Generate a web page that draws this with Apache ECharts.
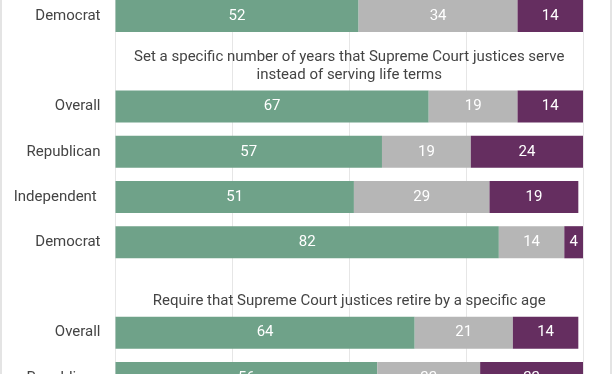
<!DOCTYPE html>
<html>
<head>
<meta charset="utf-8">
<script src="https://cdn.jsdelivr.net/npm/echarts@6/dist/echarts.min.js"></script>
<style>
html,body{margin:0;padding:0;background:#fff;}
#wrap{position:relative;width:612px;height:374px;overflow:hidden;}
#chart{position:absolute;left:0;top:-8px;width:612px;height:420px;}
.bl{position:absolute;top:0;left:0;width:2px;height:374px;background:#e4e4e4;}
.br{position:absolute;top:0;right:0;width:2px;height:374px;background:#e4e4e4;}
</style>
</head>
<body>
<div id="wrap"><div id="chart"></div><div class="bl"></div><div class="br"></div></div>
<script>
// rows top to bottom ('' = section title row)
const rowLabels = ['Democrat', '', 'Overall', 'Republican', 'Independent ', 'Democrat', '', 'Overall', 'Republican'];
const titles = ['', 'Set a specific number of years that Supreme Court justices serve\ninstead of serving life terms', '', '', '', '', 'Require that Supreme Court justices retire by a specific age', '', ''];
const favor   = [52, null, 67, 57, 51, 82, null, 64, 56];
const neither = [34, null, 19, 19, 29, 14, null, 21, 22];
const oppose  = [14, null, 14, 24, 19, 4, null, 14, 22];
const xTicks = [0, 25, 50, 75, 100];

const fontFamily = 'Roboto, "Noto Sans", sans-serif';
const chart = echarts.init(document.getElementById('chart'), null, {renderer: 'canvas'});

function seg(name, data, color) {
  return {
    name: name, type: 'bar', stack: 'total', yAxisIndex: 0,
    barWidth: '71%',
    data: data.map(v => v == null ? '-' : v),
    itemStyle: {color: color},
    label: {show: true, position: 'inside', color: '#fff', fontSize: 15, fontFamily: fontFamily,
            formatter: p => p.value},
    silent: true
  };
}

chart.setOption({
  animation: false,
  grid: {left: 115.5, right: 29, top: 1.4, bottom: 11.4, containLabel: false},
  xAxis: {
    type: 'value', min: xTicks[0], max: xTicks[xTicks.length - 1], interval: 25,
    axisLabel: {show: false}, axisTick: {show: false}, axisLine: {show: false},
    splitLine: {show: true, lineStyle: {color: '#e6e6e6', width: 1}}
  },
  yAxis: [{
    type: 'category', inverse: true, data: rowLabels,
    axisTick: {show: false},
    axisLine: {show: true, lineStyle: {color: '#e6e6e6', width: 1}},
    axisLabel: {color: '#444', fontSize: 15, fontFamily: fontFamily, margin: 15}
  }, {
    type: 'category', inverse: true, data: titles, show: false
  }],
  series: [
    seg('Favor', favor, '#6fa289'),
    seg('Neither', neither, '#b6b6b6'),
    seg('Oppose', oppose, '#652e60'),
    {
      name: 'titles', type: 'bar', yAxisIndex: 1, barWidth: '100%', silent: true,
      data: titles.map(t => t ? 100 : '-'),
      itemStyle: {color: 'rgba(0,0,0,0)'},
      label: {show: true, position: 'insideBottom', distance: 0, color: '#444', fontSize: 15,
              lineHeight: 18, fontFamily: fontFamily, align: 'center',
              formatter: p => titles[p.dataIndex]}
    }
  ]
});
</script>
</body>
</html>
